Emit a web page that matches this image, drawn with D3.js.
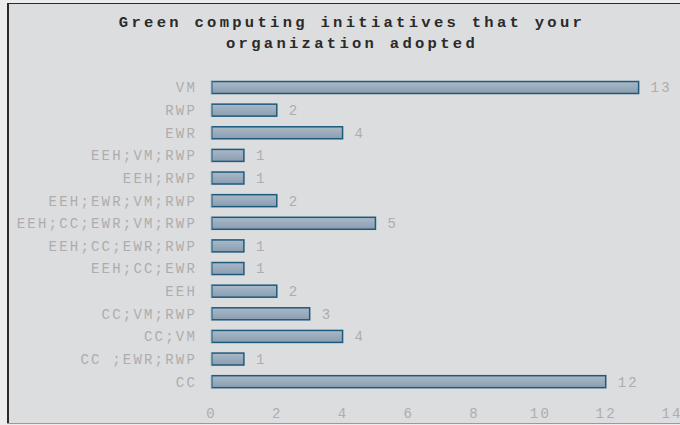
<!DOCTYPE html>
<html>
<head>
<meta charset="utf-8">
<script src="https://cdn.jsdelivr.net/npm/d3@7"></script>
<style>
html,body{margin:0;padding:0;background:#ececec;}
svg{display:block;}
text{white-space:pre;}
</style>
</head>
<body>
<script>
const categories = ["VM","RWP","EWR","EEH;VM;RWP","EEH;RWP","EEH;EWR;VM;RWP","EEH;CC;EWR;VM;RWP","EEH;CC;EWR;RWP","EEH;CC;EWR","EEH","CC;VM;RWP","CC;VM","CC ;EWR;RWP","CC"];
const values = [13,2,4,1,1,2,5,1,1,2,3,4,1,12];
const xTicks = [0,2,4,6,8,10,12,14];
const titleLines = ["Green computing initiatives that your","organization adopted"];

const W = 680, H = 425;
const svg = d3.select("body").append("svg").attr("width", W).attr("height", H);

const defs = svg.append("defs");
const grad = defs.append("linearGradient").attr("id","barGrad").attr("x1",0).attr("y1",0).attr("x2",0).attr("y2",1);
grad.append("stop").attr("offset","0%").attr("stop-color","#a9b9c8");
grad.append("stop").attr("offset","100%").attr("stop-color","#8a9db0");

// panel
svg.append("rect").attr("x",7).attr("y",3).attr("width",W).attr("height",420)
  .attr("fill","#dcdddf");
svg.append("line").attr("x1",8).attr("x2",8).attr("y1",3).attr("y2",424).attr("stroke","#2a2a2a").attr("stroke-width",2);
svg.append("line").attr("x1",7).attr("x2",W).attr("y1",3.5).attr("y2",3.5).attr("stroke","#2a2a2a").attr("stroke-width",1);
svg.append("line").attr("x1",7).attr("x2",W).attr("y1",423.5).attr("y2",423.5).attr("stroke","#9a9a9a").attr("stroke-width",1);

const mono = "'Courier New', 'Liberation Mono', monospace";

const title = svg.append("text").attr("x",352).attr("y",26.5)
  .attr("text-anchor","middle").attr("font-family",mono).attr("font-weight","bold")
  .attr("font-size",15.5).attr("letter-spacing",3.3).attr("fill","#2a2a2a");
titleLines.forEach((l,i)=>title.append("tspan").attr("x",352).attr("dy", i===0?0:21).text(l));

const x = d3.scaleLinear().domain([0,14]).range([211,671.5]);
const y = d3.scaleBand().domain(categories).range([76.2,393]).paddingInner(0.47).paddingOuter(0.235);

// bars
svg.append("g").selectAll("rect").data(values).join("rect")
  .attr("x", x(0)+0.75)
  .attr("y", (d,i)=>y(categories[i]))
  .attr("width", d=>x(d)-x(0)-0.75)
  .attr("height", y.bandwidth())
  .attr("fill","url(#barGrad)")
  .attr("stroke","#1e5a7c").attr("stroke-width",1.5);

// left light edge
svg.append("g").selectAll("line").data(values).join("line")
  .attr("x1", x(0)).attr("x2", x(0))
  .attr("y1",(d,i)=>y(categories[i])-1).attr("y2",(d,i)=>y(categories[i])+y.bandwidth()+1)
  .attr("stroke","#b9c4ce").attr("stroke-width",1);

const labelStyle = sel => sel.attr("font-family",mono).attr("font-size",14)
  .attr("letter-spacing",2.2).attr("fill","#adadad");

// category labels
const yAxis = d3.axisLeft(y).tickSize(0).tickPadding(0);
const ya = svg.append("g").attr("transform","translate(197,0)").call(yAxis);
ya.select(".domain").remove();
ya.selectAll("text").call(labelStyle).attr("dy","0.35em");

// value labels
svg.append("g").selectAll("text").data(values).join("text")
  .attr("x", d=>x(d)+12)
  .attr("y",(d,i)=>y(categories[i])+y.bandwidth()/2)
  .attr("dy","0.35em")
  .call(labelStyle)
  .text(d=>d);

// x axis
const xAxis = d3.axisBottom(x).tickValues(xTicks).tickSize(0).tickPadding(0).tickFormat(d3.format("d"));
const xa = svg.append("g").attr("transform","translate(0,413)").call(xAxis);
xa.select(".domain").remove();
xa.selectAll("text").call(labelStyle).attr("dy","0.35em");
</script>
</body>
</html>
